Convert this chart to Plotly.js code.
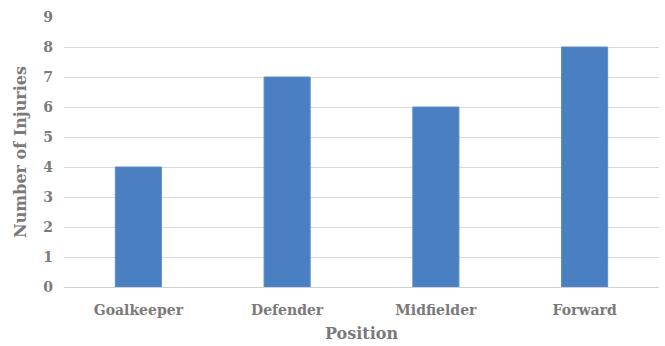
<!DOCTYPE html>
<html><head><meta charset="utf-8">
<script src="https://cdn.plot.ly/plotly-3.0.1.min.js"></script>
<style>html,body{margin:0;padding:0;background:#fff;}#chart{width:665px;height:346px;}</style>
</head><body><div id="chart"></div>
<script>
const positions = ["Goalkeeper", "Defender", "Midfielder", "Forward"];
const injuries = [4, 7, 6, 8];
const yTicks = [0, 1, 2, 3, 4, 5, 6, 7, 8, 9];

const font = "DejaVu Serif";
const gray = "#7a7a7a";
Plotly.newPlot("chart", [{
  type: "bar",
  x: positions,
  y: injuries,
  marker: {color: "#4a7fc1", line: {color: "#5a8dcc", width: 1}},
  hoverinfo: "skip"
}], {
  width: 665, height: 346,
  margin: {l: 64, r: 6, t: 17, b: 59},
  bargap: 0.69,
  paper_bgcolor: "#fff", plot_bgcolor: "#fff",
  font: {family: font, color: gray},
  xaxis: {
    title: {text: "<b>Position</b>", font: {family: font, size: 16, color: gray}, standoff: 10},
    tickvals: positions, ticktext: positions.map(p => "<b>" + p + "</b>"),
    tickfont: {family: font, size: 14, color: gray},
    showline: false, ticks: "", showgrid: false, zeroline: false,
    ticklabelstandoff: 13
  },
  yaxis: {
    title: {text: "<b>Number of Injuries</b>", font: {family: font, size: 16, color: gray}, standoff: 12},
    range: [0, 9], tickvals: yTicks, ticktext: yTicks.map(v => "<b>" + v + "</b>"),
    tickfont: {family: font, size: 14, color: gray},
    gridcolor: "#d9d9d9", gridwidth: 1, zeroline: true, zerolinecolor: "#d0d0d0", zerolinewidth: 1,
    ticks: "", showline: false, ticklabelstandoff: 10
  },
  showlegend: false
}, {displayModeBar: false, staticPlot: true});
</script></body></html>
